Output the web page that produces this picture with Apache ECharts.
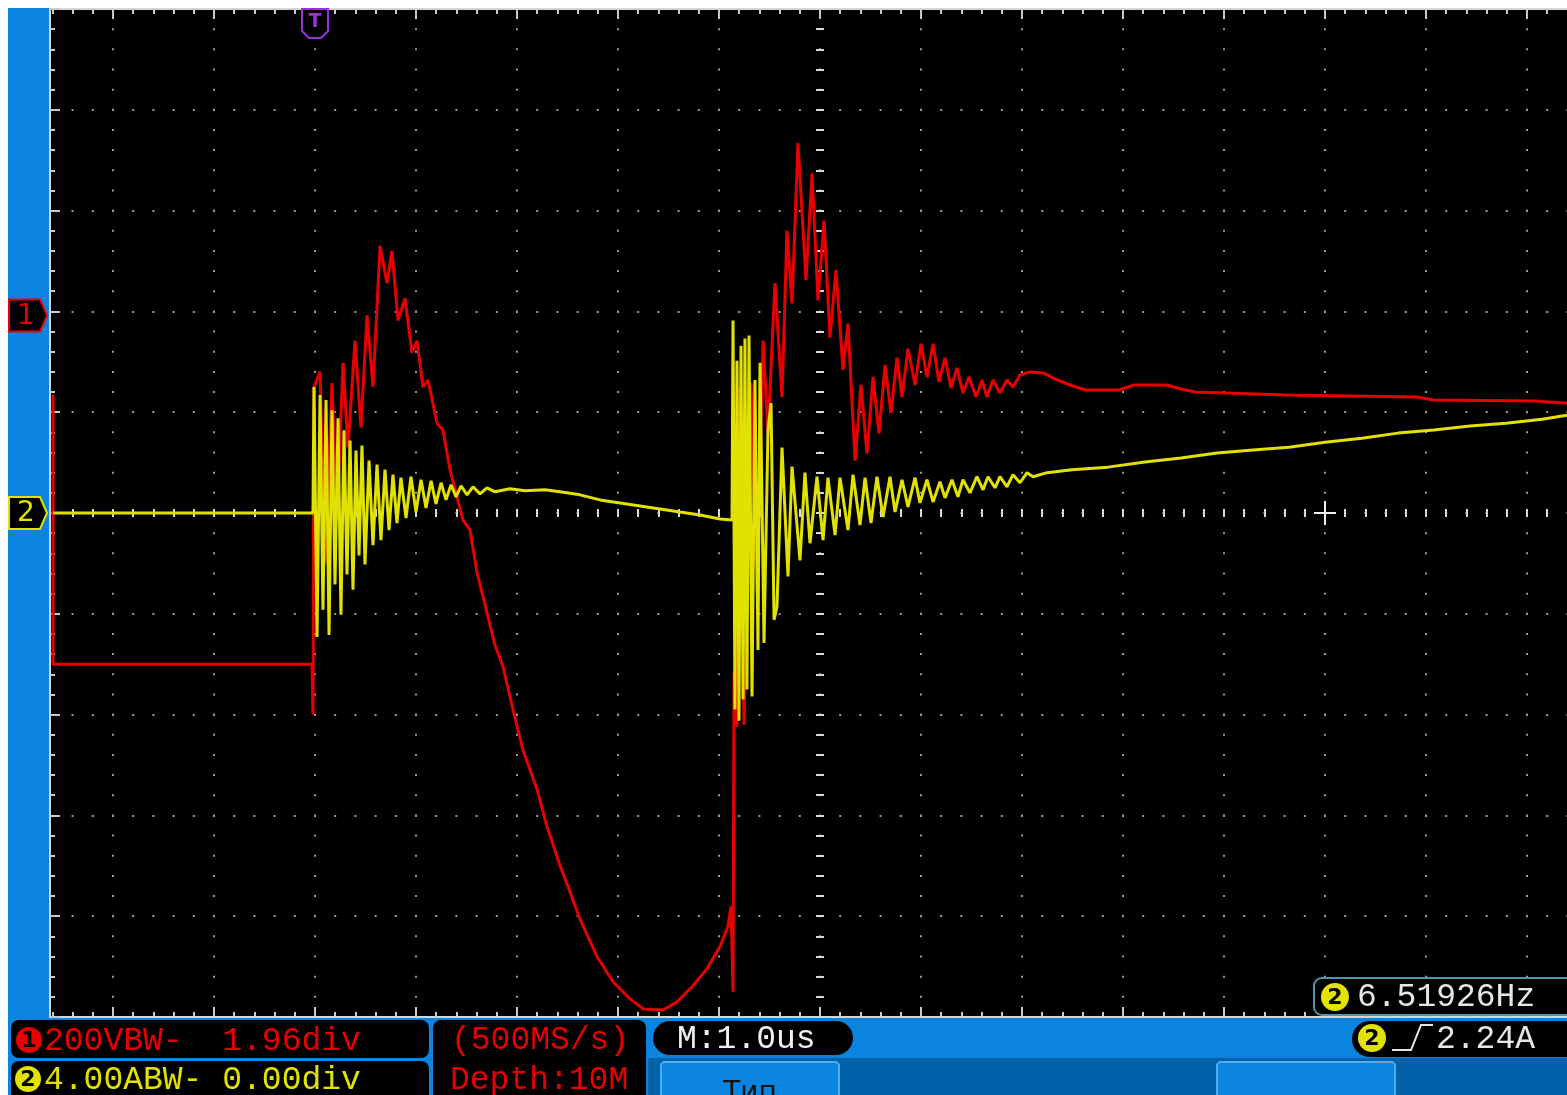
<!DOCTYPE html>
<html><head><meta charset="utf-8">
<script src="https://cdn.jsdelivr.net/npm/echarts@6/dist/echarts.min.js"></script>
<style>html,body{margin:0;padding:0;background:#fff;overflow:hidden}#c{width:1567px;height:1095px}</style>
</head><body><div id="c"></div>
<script>
// ---- data (time in µs from trigger) ----
const ch1Time = [-2.594,-2.594,-0.030,-0.020,-0.010,0.050,0.099,0.168,0.218,0.277,0.327,0.396,0.455,0.515,0.574,0.644,0.713,0.762,0.822,0.891,0.960,1.010,1.069,1.119,1.208,1.267,1.337,1.406,1.465,1.535,1.604,1.703,1.782,1.861,1.960,2.059,2.198,2.297,2.426,2.525,2.624,2.792,2.950,3.119,3.248,3.446,3.584,3.743,3.881,4.010,4.089,4.119,4.139,4.149,4.178,4.208,4.248,4.317,4.376,4.436,4.485,4.554,4.624,4.673,4.723,4.782,4.861,4.921,4.980,5.040,5.099,5.158,5.228,5.277,5.347,5.406,5.465,5.525,5.584,5.644,5.703,5.762,5.812,5.871,5.941,6.000,6.059,6.119,6.178,6.238,6.297,6.356,6.416,6.475,6.545,6.604,6.653,6.713,6.782,6.851,6.911,6.980,7.079,7.208,7.347,7.475,7.624,7.960,8.109,8.426,8.574,8.713,9.614,10.901,11.079,12.079,12.396];
const ch1Volts = [-158,-692,-692,-792,-142,-112,-492,-134,-406,-94,-262,-50,-222,0,-142,138,64,128,-10,34,-74,-50,-142,-128,-214,-228,-306,-360,-406,-426,-510,-590,-654,-696,-782,-862,-940,-1014,-1092,-1144,-1198,-1272,-1322,-1356,-1376,-1378,-1362,-1330,-1296,-1252,-1212,-1172,-1342,-708,-816,-142,-812,-134,-550,-50,-234,64,-162,168,24,342,70,282,30,188,-44,90,-108,-16,-288,-138,-274,-122,-234,-98,-194,-84,-162,-66,-138,-56,-122,-56,-132,-84,-144,-104,-154,-122,-162,-128,-162,-128,-154,-128,-142,-118,-112,-114,-128,-138,-148,-148,-138,-138,-146,-152,-158,-162,-168,-170,-174];
const ch2Time = [-2.594,-0.020,-0.010,0.020,0.050,0.079,0.109,0.139,0.168,0.198,0.228,0.257,0.287,0.317,0.347,0.376,0.406,0.436,0.465,0.495,0.535,0.574,0.614,0.653,0.693,0.733,0.772,0.812,0.851,0.901,0.950,1.000,1.050,1.099,1.149,1.198,1.248,1.297,1.347,1.396,1.446,1.505,1.564,1.634,1.703,1.782,1.931,2.079,2.277,2.426,2.624,2.822,3.020,3.218,3.416,3.614,3.812,4.010,4.129,4.139,4.158,4.178,4.198,4.218,4.238,4.257,4.277,4.297,4.327,4.356,4.386,4.406,4.446,4.485,4.515,4.545,4.574,4.624,4.683,4.723,4.802,4.851,4.901,4.970,5.030,5.079,5.149,5.198,5.277,5.327,5.396,5.446,5.505,5.564,5.624,5.693,5.743,5.812,5.871,5.941,5.990,6.059,6.119,6.188,6.238,6.307,6.366,6.416,6.485,6.554,6.614,6.663,6.733,6.782,6.851,6.911,6.980,7.050,7.109,7.248,7.495,7.851,8.218,8.574,8.931,9.287,9.644,10.000,10.366,10.723,11.079,11.436,11.792,12.149,12.396];
const ch2Amps = [0,0,5.00,-4.92,4.68,-3.84,4.48,-4.84,4.08,-2.84,3.76,-4.04,3.28,-2.44,2.88,-3.04,2.48,-1.68,2.68,-2.04,2.08,-1.28,1.92,-1.08,1.72,-0.68,1.52,-0.40,1.40,-0.20,1.44,0.04,1.32,0.20,1.28,0.36,1.20,0.52,1.12,0.64,1.08,0.72,1.04,0.76,1.00,0.84,0.96,0.88,0.92,0.84,0.72,0.52,0.40,0.28,0.16,0.04,-0.08,-0.24,-0.28,7.64,-7.80,6.04,-8.24,6.64,-7.40,6.92,-7.00,7.04,-7.28,5.28,-5.44,5.96,-5.16,3.28,4.36,-4.24,-3.72,2.60,-2.52,1.84,-1.88,1.60,-1.20,1.44,-1.08,1.40,-0.88,1.40,-0.68,1.52,-0.48,1.40,-0.40,1.44,-0.16,1.44,0.04,1.32,0.24,1.40,0.40,1.32,0.44,1.24,0.60,1.32,0.64,1.32,0.80,1.44,0.92,1.44,1.00,1.44,1.04,1.52,1.20,1.60,1.44,1.60,1.72,1.82,2.02,2.18,2.38,2.50,2.61,2.81,2.97,3.17,3.29,3.45,3.56,3.72,3.88];

const ch1VoltsPerDiv = 200;
const ch1OffsetDiv = 1.96;
const ch2AmpsPerDiv = 4;
const ch2OffsetDiv = 0.00;
const timeRange = [-3, 13];
const divRange = [-5, 5];
const triggerTime = 0;
const cursorTime = 10;
const cursorDiv = 0;

const ch1Text = '200VBW-  1.96div';
const ch2Text = '4.00ABW- 0.00div';
const rateText = '(500MS/s)';
const depthText = 'Depth:10M';
const timebaseText = 'M:1.0us';
const freqText = '6.51926Hz';
const trigLevelText = '2.24A';
const menuText = 'Тип';

// ---- build ----
const RED = '#e80000', YEL = '#e2e200', BLUE = '#0a84df', DBLUE = '#0063a9', PURP = '#9a30e0';
const MONO = '"Liberation Mono","DejaVu Sans Mono",monospace';
const ch1Data = ch1Time.map((t, i) => [t, ch1Volts[i]]);
const ch2Data = ch2Time.map((t, i) => [t, ch2Amps[i]]);

function xAx(opts) {
  return Object.assign({
    type: 'value', min: timeRange[0], max: timeRange[1], interval: 1,
    axisLabel: { show: false }, splitLine: { show: false }
  }, opts);
}
function yAx(opts) {
  return Object.assign({
    type: 'value', min: divRange[0], max: divRange[1], interval: 1,
    axisLabel: { show: false }, splitLine: { show: false }
  }, opts);
}
const borderLine = { show: true, onZero: false, lineStyle: { color: '#d6d6d6', width: 2 } };
const borderTick = { show: true, inside: true, length: 10, lineStyle: { color: '#cacaca', width: 2 } };
const borderMinor = { show: true, splitNumber: 5, length: 5, lineStyle: { color: '#cacaca', width: 2 } };
const ctrTick = (inside) => ({ show: true, inside: inside, length: 4, lineStyle: { color: '#d8d8d8', width: 2 } });
const ctrMinor = { show: true, splitNumber: 5, length: 4, lineStyle: { color: '#d8d8d8', width: 2 } };

const option = {
  animation: false,
  backgroundColor: '#ffffff',
  grid: { left: 12, right: -61, top: 9, bottom: 78, show: true, backgroundColor: '#000', borderWidth: 0, containLabel: false, outerBoundsMode: 'none' },
  xAxis: [
    xAx({ position: 'bottom', axisLine: borderLine, axisTick: borderTick, minorTick: borderMinor,
      splitLine: { show: true, lineStyle: { color: '#9a9a9a', width: 2, type: [2, 18.16], dashOffset: 1 } } }),
    xAx({ position: 'top', axisLine: borderLine, axisTick: borderTick, minorTick: borderMinor }),
    xAx({ position: 'bottom', offset: -504, axisLine: { show: false, onZero: false }, axisTick: ctrTick(true), minorTick: ctrMinor }),
    xAx({ position: 'bottom', offset: -504, axisLine: { show: false, onZero: false }, axisTick: ctrTick(false), minorTick: ctrMinor })
  ],
  yAxis: [
    yAx({ position: 'left', offset: -38, axisLine: borderLine, axisTick: borderTick, minorTick: borderMinor,
      splitLine: { show: true, lineStyle: { color: '#9a9a9a', width: 2, type: [2, 18.2], dashOffset: 1 } } }),
    yAx({ position: 'left', offset: -808, axisLine: { show: false, onZero: false }, axisTick: ctrTick(true), minorTick: ctrMinor }),
    yAx({ position: 'left', offset: -808, axisLine: { show: false, onZero: false }, axisTick: ctrTick(false), minorTick: ctrMinor }),
    { type: 'value', show: false, axisLine: { onZero: false },
      min: (divRange[0] - ch1OffsetDiv) * ch1VoltsPerDiv, max: (divRange[1] - ch1OffsetDiv) * ch1VoltsPerDiv },
    { type: 'value', show: false, axisLine: { onZero: false },
      min: (divRange[0] - ch2OffsetDiv) * ch2AmpsPerDiv, max: (divRange[1] - ch2OffsetDiv) * ch2AmpsPerDiv }
  ],
  series: [
    { type: 'line', name: 'CH1', xAxisIndex: 0, yAxisIndex: 3, data: ch1Data, symbol: 'none', showSymbol: false,
      lineStyle: { color: RED, width: 3 }, z: 3, clip: true },
    { type: 'line', name: 'CH2', xAxisIndex: 0, yAxisIndex: 4, data: ch2Data, symbol: 'none', showSymbol: false,
      lineStyle: { color: YEL, width: 3 }, z: 4, clip: true }
  ]
};

const chart = echarts.init(document.getElementById('c'), null, { renderer: 'canvas', width: 1567, height: 1095 });
chart.setOption(option);

const tx = chart.convertToPixel({ xAxisIndex: 0 }, triggerTime);
const y1 = chart.convertToPixel({ yAxisIndex: 0 }, ch1OffsetDiv);
const y2 = chart.convertToPixel({ yAxisIndex: 0 }, ch2OffsetDiv);
const cx = chart.convertToPixel({ xAxisIndex: 0 }, cursorTime);
const cy = chart.convertToPixel({ yAxisIndex: 0 }, cursorDiv);

function txt(id, x, y, text, fill, size, extra) {
  return Object.assign({ id: id, type: 'text', z: 120, x: x, y: y,
    style: Object.assign({ text: text, fill: fill, font: size + 'px ' + MONO,
      align: 'left', verticalAlign: 'middle', textAlign: 'left', textVerticalAlign: 'middle' }, extra || {}) });
}
function rect(id, x, y, w, h, r, fill, stroke, z) {
  return { id: id, type: 'rect', z: z || 100, shape: { x: x, y: y, width: w, height: h, r: r },
    style: { fill: fill, stroke: stroke || null, lineWidth: stroke ? 2 : 0 } };
}
function badge(id, x, y, r, fill, label) {
  return [
    { id: id + 'c', type: 'circle', z: 115, shape: { cx: x, cy: y, r: r }, style: { fill: fill } },
    { id: id + 't', type: 'text', z: 116, x: x, y: y + 1,
      style: { text: label, fill: '#000', font: 'bold 22px "DejaVu Sans",sans-serif', align: 'center', verticalAlign: 'middle', textAlign: 'center', textVerticalAlign: 'middle' } }
  ];
}
function marker(id, y, color, label) {
  return [
    { id: id + 'p', type: 'polygon', z: 110,
      shape: { points: [[9, y - 16], [40, y - 16], [47, y], [40, y + 16], [9, y + 16]] },
      style: { fill: '#000', stroke: color, lineWidth: 2 } },
    { id: id + 't', type: 'text', z: 111, x: 26, y: y + 1,
      style: { text: label, fill: color, font: '28px "DejaVu Sans",sans-serif', align: 'center', verticalAlign: 'middle', textAlign: 'center', textVerticalAlign: 'middle' } }
  ];
}

const graphics = [
  rect('leftbar', 8, 8, 41, 1087, 0, BLUE),
  rect('botbar', 8, 1018, 1559, 77, 0, BLUE),
  rect('botdark', 648, 1058, 919, 37, 0, DBLUE),
  rect('box1', 11, 1020, 418, 38, 8, '#000'),
  rect('box2', 11, 1061, 418, 45, 8, '#000'),
  rect('box3', 433, 1020, 213, 85, 8, '#000'),
  rect('box4', 653, 1021, 200, 34, 17, '#000'),
  rect('btn1', 661, 1062, 178, 40, 4, BLUE, '#52acf0'),
  rect('btn2', 1217, 1062, 178, 40, 4, BLUE, '#52acf0'),
  rect('trig', 1352, 1021, 240, 36, 18, '#000'),
  rect('freq', 1314, 978, 262, 37, 8, '#000', '#4a98a8'),
  txt('t1', 44, 1041, ch1Text, RED, 33),
  txt('t2', 44, 1080, ch2Text, YEL, 33),
  txt('t3', 451, 1040, rateText, RED, 33),
  txt('t4', 450, 1080, depthText, RED, 33),
  txt('t5', 677, 1039, timebaseText, '#f0f0f0', 33),
  txt('t6', 1357, 997, freqText, '#e6e6e6', 33),
  txt('t7', 1436, 1039, trigLevelText, '#e6e6e6', 33),
  { id: 'menu', type: 'text', z: 120, x: 750, y: 1080,
    style: { text: menuText, fill: '#111', font: '28px "DejaVu Sans",sans-serif', align: 'center', verticalAlign: 'top', textAlign: 'center', textVerticalAlign: 'top' } },
  { id: 'edge', type: 'polyline', z: 120, shape: { points: [[1392, 1050], [1411, 1050], [1421, 1025], [1433, 1025]] },
    style: { stroke: '#e6e6e6', lineWidth: 2, fill: null } },
  ...badge('b1', 29, 1040, 13, RED, '1'),
  ...badge('b2', 28, 1079, 13, YEL, '2'),
  ...badge('b3', 1335, 997, 14, YEL, '2'),
  ...badge('b4', 1372, 1038, 14, YEL, '2'),
  ...marker('m1', y1, RED, '1'),
  ...marker('m2', y2, YEL, '2'),
  { id: 'tmk', type: 'polygon', z: 110,
    shape: { points: [[tx - 13, 9], [tx + 13, 9], [tx + 13, 31], [tx + 6, 38], [tx - 6, 38], [tx - 13, 31]] },
    style: { fill: '#000', stroke: PURP, lineWidth: 2 } },
  { id: 'tmt', type: 'text', z: 111, x: tx, y: 22,
    style: { text: 'T', fill: PURP, font: 'bold 19px "DejaVu Sans",sans-serif', align: 'center', verticalAlign: 'middle', textAlign: 'center', textVerticalAlign: 'middle' } },
  { id: 'cur1', type: 'line', z: 50, shape: { x1: cx - 11, y1: cy, x2: cx + 11, y2: cy }, style: { stroke: '#f0f0f0', lineWidth: 2 } },
  { id: 'cur2', type: 'line', z: 50, shape: { x1: cx, y1: cy - 12, x2: cx, y2: cy + 12 }, style: { stroke: '#f0f0f0', lineWidth: 2 } }
];
chart.setOption({ graphic: { elements: graphics } });
</script>
</body></html>
